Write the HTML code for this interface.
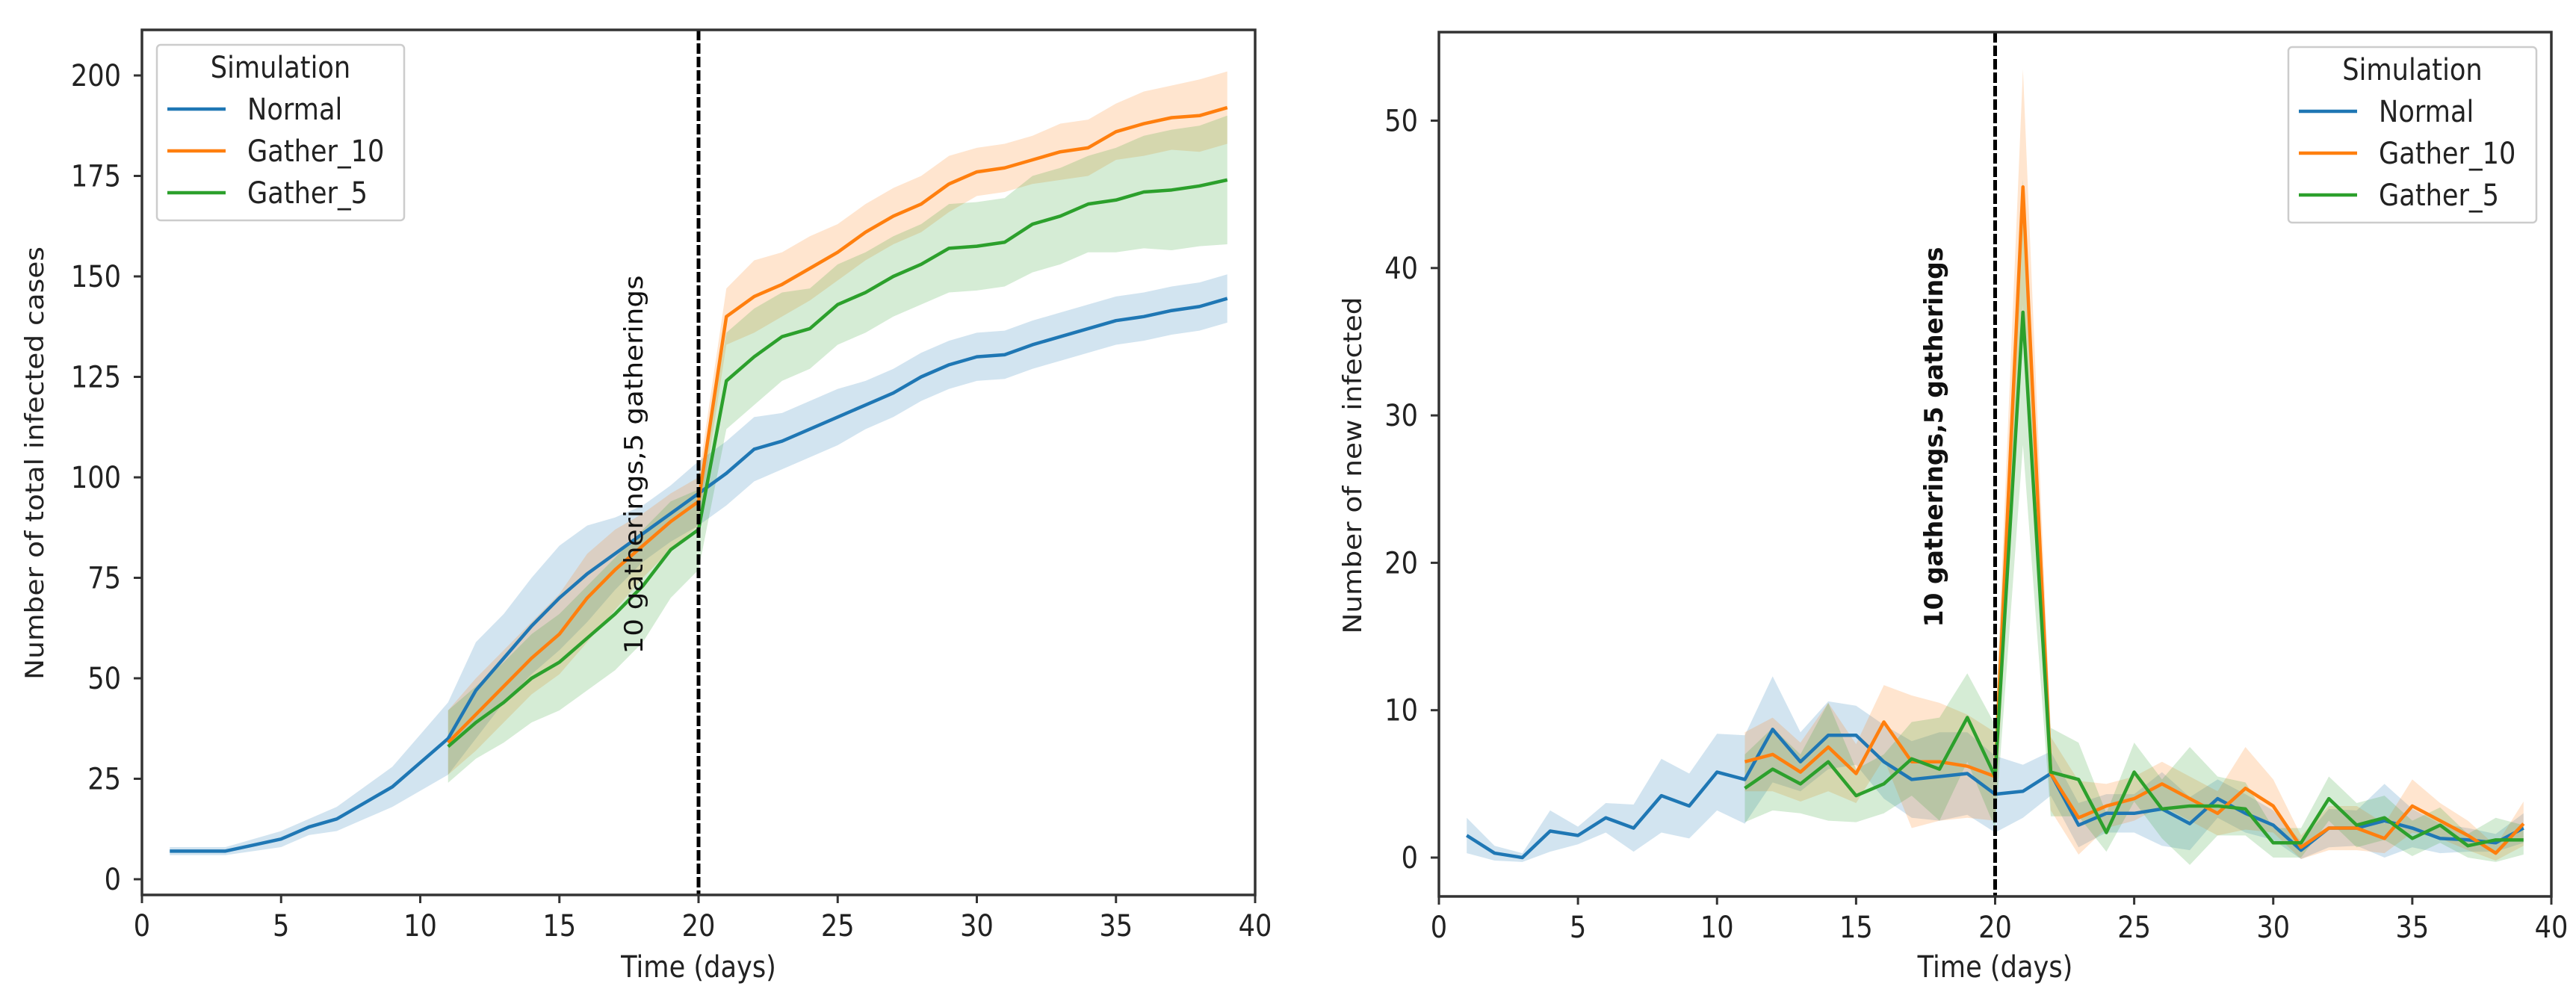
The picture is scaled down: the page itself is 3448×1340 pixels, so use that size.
<!DOCTYPE html>
<html><head><meta charset="utf-8"><style>
html,body{margin:0;padding:0;background:#fff;}
svg{display:block;font-family:"DejaVu Sans","Liberation Sans",sans-serif;}
</style></head><body>
<svg id="chart" width="3448" height="1340" viewBox="0 0 3448 1340" xmlns="http://www.w3.org/2000/svg"></svg>
<script>
const normalDays=[1,2,3,4,5,6,7,8,9,10,11,12,13,14,15,16,17,18,19,20,21,22,23,24,25,26,27,28,29,30,31,32,33,34,35,36,37,38,39];
const gatherDays=[11,12,13,14,15,16,17,18,19,20,21,22,23,24,25,26,27,28,29,30,31,32,33,34,35,36,37,38,39];
const totalNormal=[7,7,7,8.5,10,13,15,19,23,29,35,47,55,63,70,76,81,86,91,96,101,107,109,112,115,118,121,125,128,130,130.5,133,135,137,139,140,141.5,142.5,144.5];
const totalNormalErr=[1,1,1,1.5,2,2,3,4,5,7,9,12,11,12,13,12,9,7,7,8,8,8,7,7,7,6,6,6,6,6,6,6,6,6,6,6,6,6,6];
const totalG10=[34,41,48,55,61,70,77,83,89,94,140,145,148,152,156,161,165,168,173,176,177,179,181,182,186,188,189.5,190,192];
const totalG10Err=[8,9,9,9,10,11,10,8,7,6,7,9,8,8,7,7,7,7,7,6,6,6,7,7,7,8,8,9,9];
const totalG5=[33,39,44,50,54,60,66,73,82,87,124,130,135,137,143,146,150,153,157,157.5,158.5,163,165,168,169,171,171.5,172.5,174];
const totalG5Err=[9,9,10,11,12,13,14,14,12,10,12,12,11,10,10,10,10,10,11,11,11,12,12,12,13,14,15,15,16];
const newNormal=[1.5,0.3,0,1.8,1.5,2.7,2,4.2,3.5,5.8,5.3,8.7,6.5,8.3,8.3,6.5,5.3,5.5,5.7,4.3,4.5,5.7,2.2,3,3,3.3,2.3,4,3,2.2,0.5,2,2,2.5,2,1.3,1.2,1,2];
const newNormalErr=[1.2,0.5,0.3,1.4,0.6,1,1.6,2.5,2.2,2.6,3,3.6,2,2.3,2,2.5,2.6,3,2.8,2.6,1.8,1.5,1.5,1.3,1.3,2.5,1.8,1.3,1.3,1,0.6,1.3,1.2,2.5,1.3,1,0.8,0.6,1];
const newG10=[6.5,7,5.8,7.5,5.7,9.2,6.5,6.5,6.2,5.5,45.5,5.7,2.7,3.5,4,5,4,3,4.7,3.5,0.7,2,2,1.3,3.5,2.5,1.5,0.3,2.3];
const newG10Err=[2,2.5,2,3,2,2.5,4.5,4,3.5,3,8,2.5,2.5,1.5,1.5,1.5,1.5,1.5,2.8,1.8,0.8,1.5,1.5,1,1.8,1.2,1,0.5,1.5];
const newG5=[4.7,6,5,6.5,4.2,5,6.7,6,9.5,5.5,37,5.8,5.3,1.7,5.8,3.3,3.5,3.5,3.3,1,1,4,2.2,2.7,1.3,2.2,0.8,1.2,1.2];
const newG5Err=[2.3,2.8,2,4,1.8,2,2.5,3.5,3,3.5,9,3,2.5,1.3,2,2,4,2,1.8,1,1,1.5,1.5,1.5,1.2,1.2,0.8,1.5,1];
const xTicks=[0,5,10,15,20,25,30,35,40];
const yTicksTotal=[0,25,50,75,100,125,150,175,200];
const yTicksNew=[0,10,20,30,40,50];
const seriesNames=["Normal","Gather_10","Gather_5"];
const colors=["#1f77b4","#ff7f0e","#2ca02c"];
const NS="http://www.w3.org/2000/svg";
const svg=document.getElementById('chart');
const FS=40, SX=0.88;
function mk(tag,attrs,parent){const e=document.createElementNS(NS,tag);for(const k in attrs)e.setAttribute(k,attrs[k]);(parent||svg).appendChild(e);return e;}
function htext(parent,x,y,str,anchor){
  const t=mk('text',{x:0,y:0,'font-size':FS,'text-anchor':anchor,fill:'#222',transform:`translate(${x} ${y}) scale(${SX} 1)`},parent);
  t.textContent=str;return t;
}
function panel(o){
  const g=mk('g',{});
  
  
  const sx=v=>o.x0+(v-0)/40*(o.x1-o.x0);
  const sy=v=>o.yz+(v)*o.py;
  const series=[[normalDays,o.d[0],o.e[0]],[gatherDays,o.d[1],o.e[1]],[gatherDays,o.d[2],o.e[2]]];
  series.forEach((s,i)=>{
    let up=s[0].map((d,j)=>sx(d)+','+sy(s[1][j]+s[2][j]));
    let lo=s[0].map((d,j)=>sx(d)+','+sy(s[1][j]-s[2][j])).reverse();
    const b=mk('polygon',{points:up.concat(lo).join(' '),fill:colors[i],'fill-opacity':0.2,stroke:'none'},g);
    
    
  });
  series.forEach((s,i)=>{
    const l=mk('polyline',{points:s[0].map((d,j)=>sx(d)+','+sy(s[1][j])).join(' '),fill:'none',stroke:colors[i],'stroke-width':4.5,'stroke-linejoin':'round'},g);
    
    
  });
  const vl=mk('line',{x1:sx(20),x2:sx(20),y1:o.top,y2:o.bot,stroke:'#000','stroke-width':5,'stroke-dasharray':'14,4'},g);
  
  
  const fr=mk('rect',{x:o.x0,y:o.top,width:o.x1-o.x0,height:o.bot-o.top,fill:'none',stroke:'#333','stroke-width':3.5},g);
  
  
  xTicks.forEach(t=>{
    mk('line',{x1:sx(t),x2:sx(t),y1:o.bot,y2:o.bot+11,stroke:'#333','stroke-width':3},g);
    const tx=htext(g,sx(t),o.bot+55,t,'middle');
    
    
  });
  o.yt.forEach(t=>{
    mk('line',{x1:o.x0-11,x2:o.x0,y1:sy(t),y2:sy(t),stroke:'#333','stroke-width':3},g);
    const tx=htext(g,o.x0-28,sy(t)+14,t,'end');
    
    
  });
  const xl=htext(g,(o.x0+o.x1)/2,1308,'Time (days)','middle');
  
  
  const yl=mk('text',{x:o.ylx,y:o.yly,'font-size':34,'text-anchor':'middle',fill:'#222',textLength:o.yll,lengthAdjust:'spacingAndGlyphs',transform:`rotate(-90 ${o.ylx} ${o.yly})`},g);
  yl.textContent=o.ylabel;
  
  
  const an=mk('text',{x:o.ax,y:o.ay,'font-size':34,'font-weight':o.abold?'bold':'normal','text-anchor':'middle',fill:'#111',textLength:o.al,lengthAdjust:'spacingAndGlyphs',transform:`rotate(-90 ${o.ax} ${o.ay})`},g);
  an.textContent='10 gatherings,5 gatherings';
  
  
  const lg=mk('g',{},g);
  
  
  mk('rect',{x:o.lx,y:o.ly,width:o.lw,height:235,rx:5,fill:'#fff','fill-opacity':0.85,stroke:'#ccc','stroke-width':2.5},lg);
  const lt=htext(lg,o.lx+o.lw/2,o.ly+44,'Simulation','middle');
  
  
  seriesNames.forEach((n,i)=>{
    const yy=o.ly+86+i*56;
    const ent=mk('g',{},lg);
    
    
    mk('line',{x1:o.lx+14,x2:o.lx+92,y1:yy,y2:yy,stroke:colors[i],'stroke-width':4.5},ent);
    htext(ent,o.lx+121,yy+14,n,'start');
  });
}
panel({name:'total-infected-panel',x0:190,x1:1680,top:40,bot:1198,yz:1177,py:-(1177-101)/200,
  d:[totalNormal,totalG10,totalG5],e:[totalNormalErr,totalG10Err,totalG5Err],yt:yTicksTotal,
  ylabel:'Number of total infected cases',ylx:58,yly:620,yll:580,ax:860,ay:622,al:507,abold:false,lx:210,ly:60,lw:331});
panel({name:'new-infected-panel',x0:1926,x1:3415,top:43,bot:1200,yz:1148,py:-(1148-161.5)/50,
  d:[newNormal,newG10,newG5],e:[newNormalErr,newG10Err,newG5Err],yt:yTicksNew,
  ylabel:'Number of new infected',ylx:1822,yly:623,yll:451,ax:2600,ay:585,al:509,abold:true,lx:3063,ly:63,lw:332});
</script>
</body></html>
